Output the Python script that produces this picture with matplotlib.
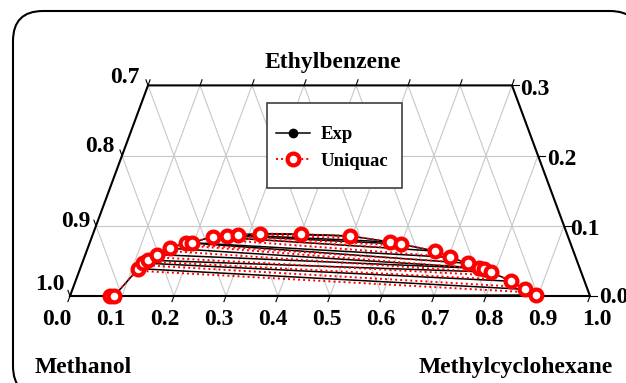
import matplotlib.pyplot as plt
import numpy as np
from matplotlib.patches import FancyBboxPatch, Rectangle
from matplotlib.lines import Line2D

plt.rcParams['font.family'] = ['Liberation Serif', 'DejaVu Serif']
plt.rcParams['font.weight'] = 'bold'

# binodal curve points (mass fractions): methylcyclohexane, ethylbenzene
bin_mch = [0.077, 0.085, 0.112, 0.116, 0.125, 0.137, 0.158, 0.185, 0.196, 0.232, 0.259, 0.279, 0.321,
           0.400, 0.496, 0.577, 0.599, 0.670, 0.704, 0.742, 0.766, 0.777, 0.793, 0.838, 0.870, 0.895]
bin_eb = [0.000, 0.000, 0.039, 0.047, 0.051, 0.059, 0.068, 0.076, 0.076, 0.0845, 0.086, 0.087, 0.089,
          0.088, 0.0855, 0.077, 0.074, 0.064, 0.055, 0.0465, 0.040, 0.039, 0.034, 0.021, 0.0095, 0.0014]

# experimental tie lines: methanol-rich end -> hydrocarbon-rich end
exp_l_mch = [0.085, 0.112, 0.116, 0.125, 0.137, 0.158, 0.185, 0.196, 0.232, 0.259, 0.279, 0.321]
exp_l_eb = [0.000, 0.039, 0.047, 0.051, 0.059, 0.068, 0.076, 0.076, 0.0845, 0.086, 0.087, 0.089]
exp_r_mch = [0.895, 0.870, 0.838, 0.793, 0.777, 0.766, 0.742, 0.704, 0.670, 0.599, 0.577, 0.496]
exp_r_eb = [0.0014, 0.0095, 0.021, 0.034, 0.039, 0.040, 0.0465, 0.055, 0.064, 0.074, 0.077, 0.0855]

# UNIQUAC tie lines
uq_l_mch = [0.110, 0.118, 0.127, 0.140, 0.160, 0.188, 0.200, 0.236, 0.262, 0.283, 0.325]
uq_l_eb = [0.036, 0.044, 0.049, 0.055, 0.064, 0.072, 0.073, 0.081, 0.083, 0.085, 0.087]
uq_r_mch = [0.862, 0.835, 0.800, 0.780, 0.760, 0.735, 0.700, 0.660, 0.600, 0.570, 0.500]
uq_r_eb = [0.006, 0.014, 0.024, 0.030, 0.035, 0.041, 0.049, 0.058, 0.068, 0.073, 0.082]

ticks = np.round(np.arange(0, 1.01, 0.1), 1)
left_ticks = [1.0, 0.9, 0.8, 0.7]
right_ticks = [0.0, 0.1, 0.2, 0.3]
eb_top = 0.3


def tern(mch, eb):
    mch = np.asarray(mch, float)
    eb = np.asarray(eb, float)
    return mch + eb / 2, eb


# px -> data helpers (used for text placement only)
SX, SY = 520.0, 702.0
def px(x, y):
    return (x - 70) / SX, (296 - y) / SY


fig = plt.figure(figsize=(6.26, 3.83), dpi=100)

# outer rounded frame
bg = fig.add_axes([0, 0, 1, 1])
bg.set_xlim(0, 626)
bg.set_ylim(383, 0)
bg.axis('off')
bg.add_patch(FancyBboxPatch((13, 11), 627, 385, boxstyle="round,pad=0,rounding_size=30",
                            fc='white', ec='black', lw=1.5))

ax = fig.add_axes([0, 0, 1, 1])
ax.set_xlim(-70 / SX, 556 / SX)
ax.set_ylim(-87 / SY, 296 / SY)
ax.axis('off')
ax.patch.set_alpha(0)

grid_kw = dict(color='#c8c8c8', lw=0.8, zorder=1)
# lines of constant methylcyclohexane
for m in ticks[1:]:
    e1 = min(eb_top, 1 - m)
    x, y = tern([m, m], [0, e1])
    ax.plot(x, y, **grid_kw)
# lines of constant methanol
for a in ticks[1:]:
    e1 = min(eb_top, 1 - a)
    x, y = tern([1 - a, 1 - a - e1], [0, e1])
    ax.plot(x, y, **grid_kw)
# lines of constant ethylbenzene
for e in [0.1, 0.2]:
    x, y = tern([0, 1 - e], [e, e])
    ax.plot(x, y, **grid_kw)

# frame of the truncated triangle
x, y = tern([0, 1, 1 - eb_top, 0, 0], [0, 0, eb_top, eb_top, 0])
ax.plot(x, y, color='black', lw=1.5, zorder=3, solid_joinstyle='miter')

# tick marks
tl = 6
dx, dy = 0.347 * tl / SX, 0.938 * tl / SY
for m in ticks:
    x, y = tern(m, 0)
    ax.plot([x, x - dx], [y, y - dy], color='black', lw=0.8, zorder=3)
for m in ticks[:8]:
    x, y = tern(m, eb_top)
    ax.plot([x, x + dx], [y, y + dy], color='black', lw=0.8, zorder=3)
for e in right_ticks:
    x, y = tern(0, e)
    ax.plot([x, x - dx], [y, y + dy], color='black', lw=0.8, zorder=3)
    x, y = tern(1 - e, e)
    ax.plot([x, x + 7 / SX], [y, y], color='black', lw=0.8, zorder=3)

# tick labels
fs = 17
for i, t in enumerate(ticks):
    ax.text(*px(57 + 54 * i, 325), f"{t:.1f}", fontsize=fs, ha='center', va='baseline')
for t, (xr, yb) in zip(left_ticks, [(65, 290), (90, 227), (115, 152), (140, 83)]):
    ax.text(*px(xr, yb), f"{t:.1f}", fontsize=fs, ha='right', va='baseline')
for t, (xl, yb) in zip(right_ticks, [(599, 303), (570, 235), (547, 165), (520, 95)]):
    ax.text(*px(xl, yb), f"{t:.1f}", fontsize=fs, ha='left', va='baseline')

ax.text(*px(333, 68), "Ethylbenzene", fontsize=fs, ha='center', va='baseline')
ax.text(*px(35, 373), "Methanol", fontsize=fs, ha='left', va='baseline')
ax.text(*px(516, 373), "Methylcyclohexane", fontsize=fs, ha='center', va='baseline')

# experimental data
x, y = tern(bin_mch, bin_eb)
ax.plot(x, y, '-', color='black', lw=1.1, marker='o', ms=4, zorder=4)
for i in range(len(exp_l_mch)):
    x, y = tern([exp_l_mch[i], exp_r_mch[i]], [exp_l_eb[i], exp_r_eb[i]])
    ax.plot(x, y, '-', color='black', lw=1.1, marker='o', ms=4, zorder=4)

# UNIQUAC
dot = (0, (1, 1.6))
for i in range(len(uq_l_mch)):
    x, y = tern([uq_l_mch[i], uq_r_mch[i]], [uq_l_eb[i], uq_r_eb[i]])
    ax.plot(x, y, color='red', lw=1.4, linestyle=dot, zorder=5)
x, y = tern(bin_mch, bin_eb)
ax.plot(x, y, color='red', lw=1.4, linestyle=dot, marker='o', ms=8.5, mfc='white',
        mec='red', mew=3.0, zorder=6)

# legend box and entries
ax.add_patch(Rectangle((267, 103), 135, 85, transform=bg.transData, fc='white',
                       ec='#404040', lw=1.2, zorder=9))
handles = [Line2D([], [], color='black', lw=1.1, marker='o', ms=6),
           Line2D([], [], color='red', lw=1.4, linestyle=dot, marker='o', ms=8.5, mfc='white',
                  mec='red', mew=3.0)]
leg = ax.legend(handles, ['Exp', 'Uniquac'], loc='center left',
                bbox_to_anchor=(276 / 626, 1 - 148 / 383), bbox_transform=fig.transFigure,
                frameon=False, borderpad=0, labelspacing=0.5, handlelength=1.8,
                handletextpad=0.6, borderaxespad=0, prop={'weight': 'bold', 'size': 13.5})
leg.set_zorder(10)

fig.savefig('out.png', dpi=100)
